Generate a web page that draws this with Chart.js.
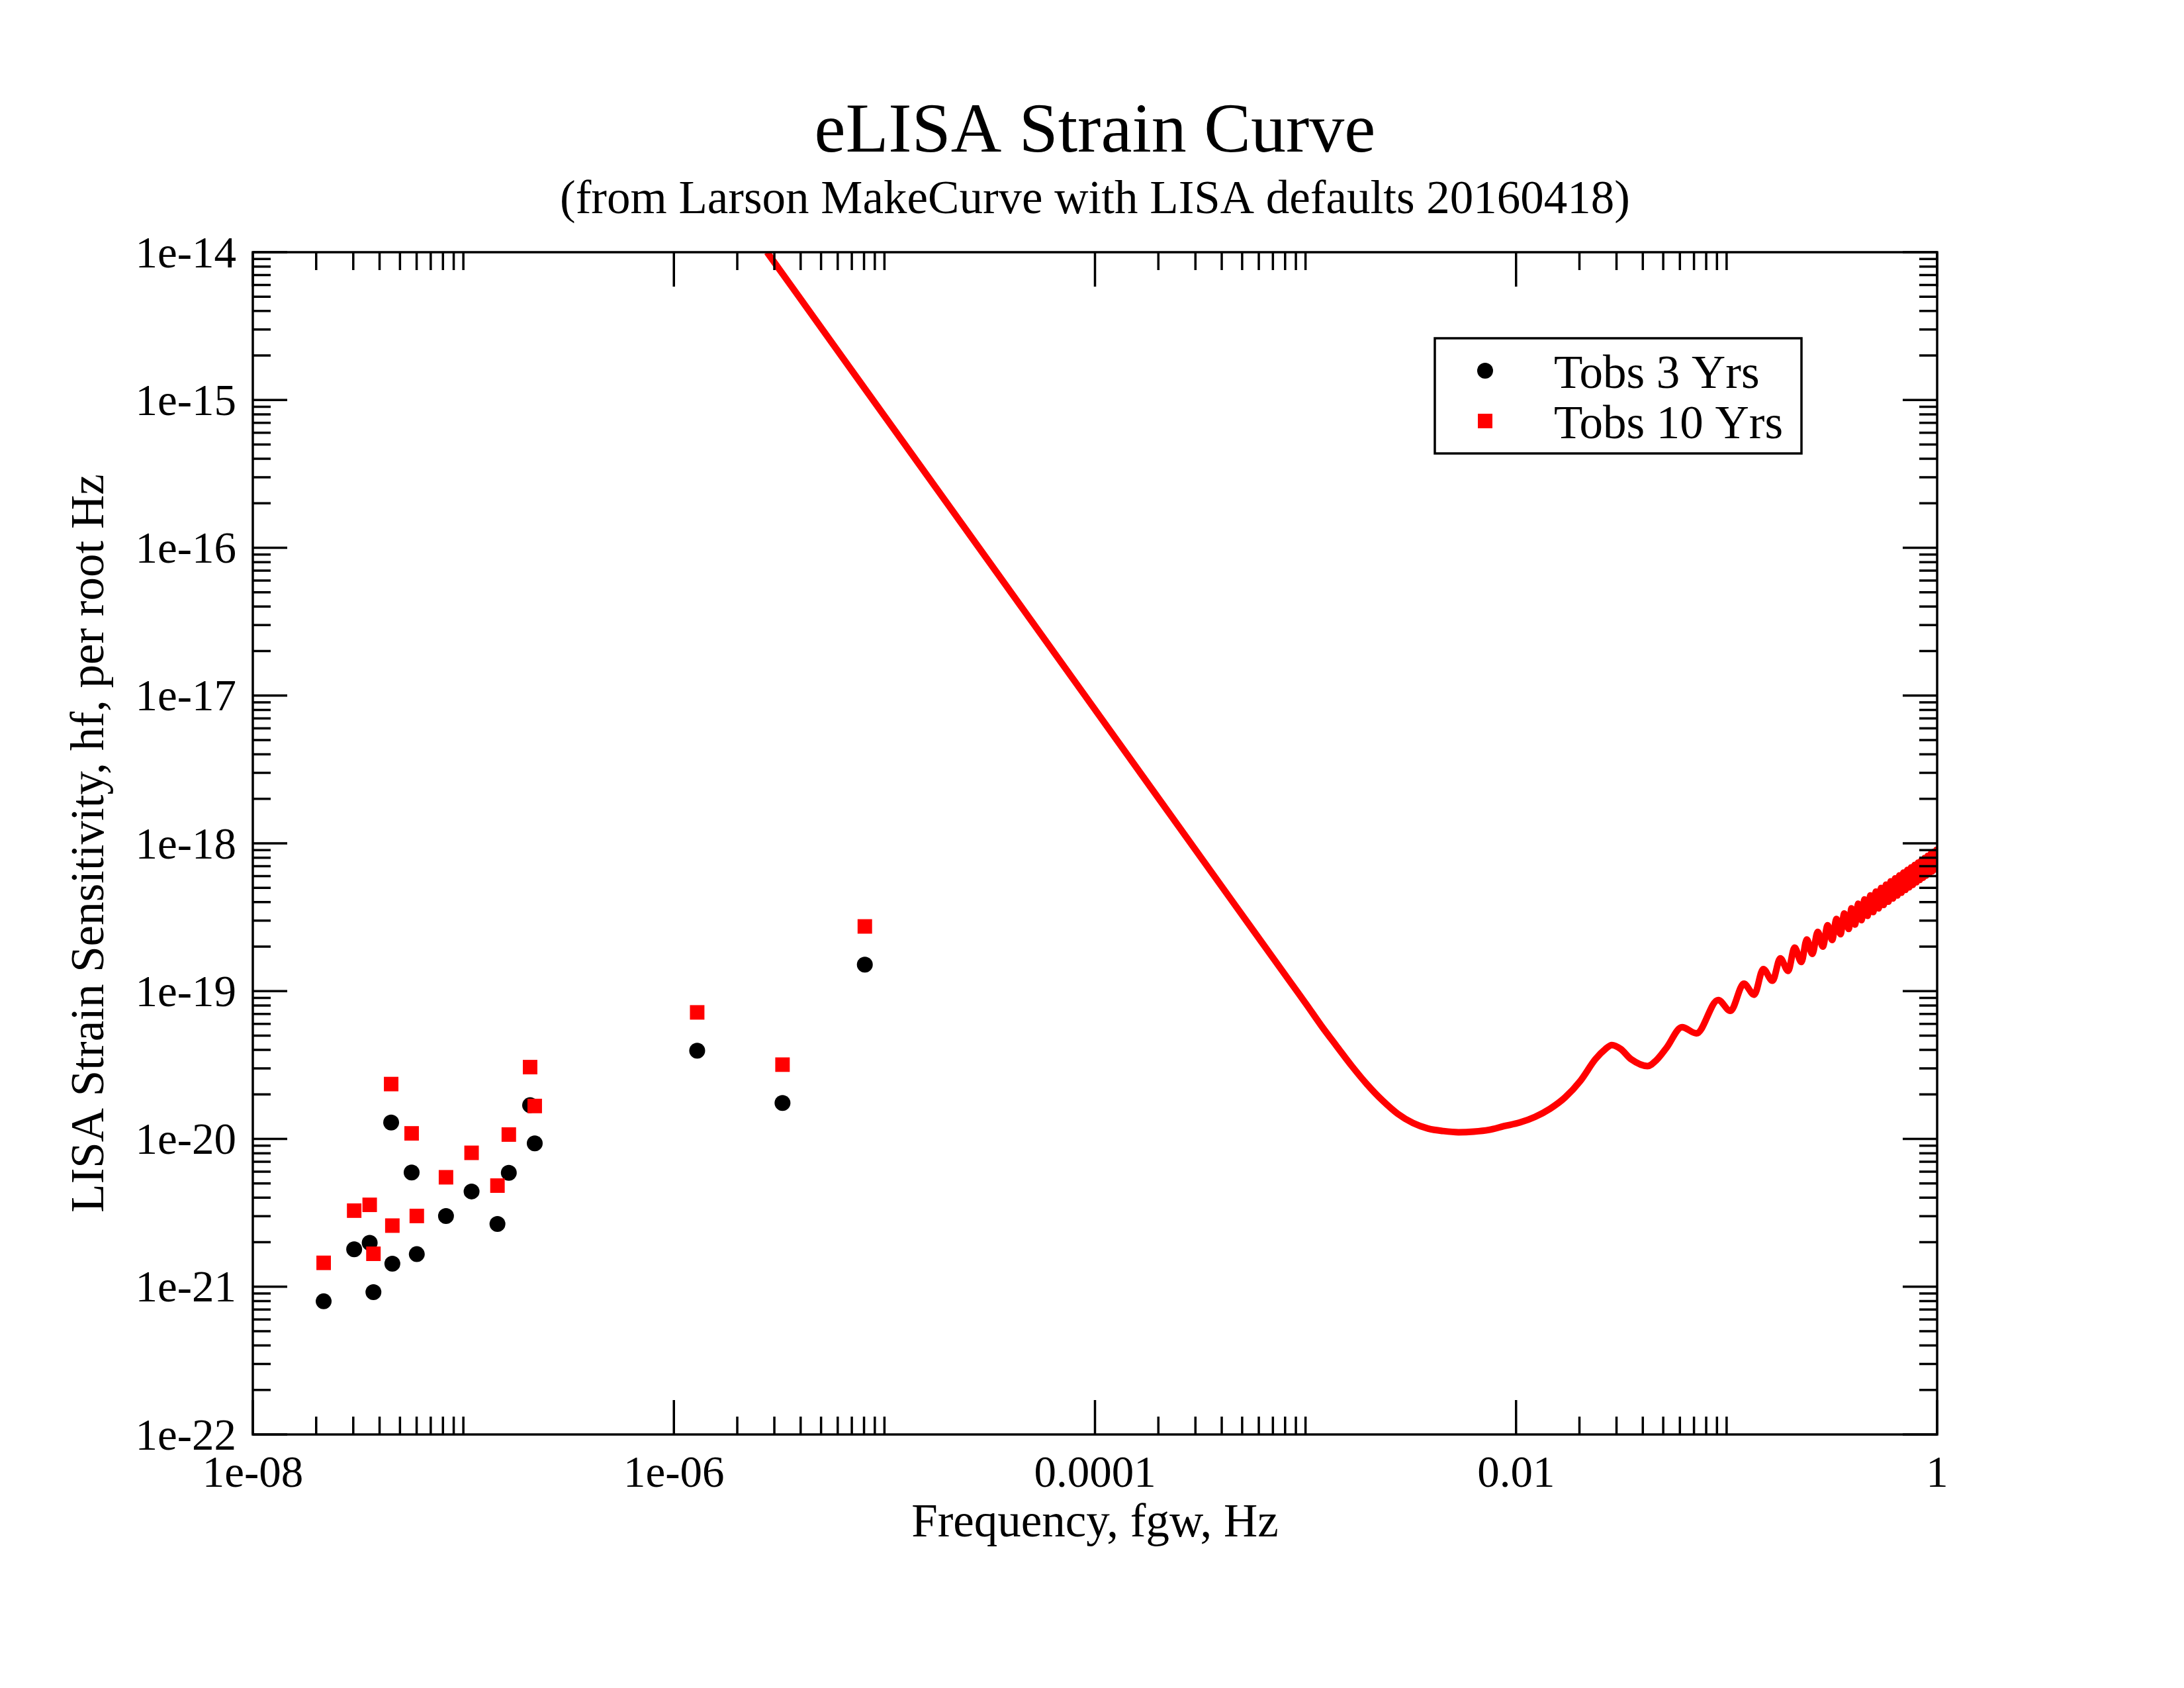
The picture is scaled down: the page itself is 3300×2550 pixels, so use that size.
<!DOCTYPE html>
<html lang="en">
<head>
<meta charset="UTF-8">
<title>eLISA Strain Curve</title>
<script src="https://cdn.jsdelivr.net/npm/chart.js"></script>
<style>
    html, body {
        margin: 0;
        padding: 0;
        background: #fff;
    }
    canvas {
        display: block;
    }
</style>
</head>
<body>
<canvas id="strainChart" width="3300" height="2550"></canvas>
<script>
    // Sensitivity curve (Hz, strain)
    const curveFreq = [
        2.77e-6, 7.24e-6, 3.49e-5, 1.84e-4, 4.63e-4, 8.55e-4,
        1.01e-3, 1.19e-3, 1.41e-3, 1.66e-3, 1.96e-3, 2.32e-3, 2.74e-3, 3.24e-3,
        3.82e-3, 4.52e-3, 5.33e-3, 6.30e-3, 7.43e-3, 8.77e-3, 1.04e-2, 1.23e-2,
        1.45e-2, 1.71e-2, 2.02e-2, 2.38e-2, 2.66e-2, 2.85e-2, 3.14e-2, 3.52e-2,
        4.21e-2, 4.63e-2, 5.18e-2, 6.14e-2, 7.19e-2, 9.12e-2,
        0.1042, 0.1208, 0.1352, 0.1493, 0.1652, 0.1799, 0.1959, 0.2104, 0.2265,
        0.2404, 0.2553, 0.2710, 0.2864, 0.3020, 0.3170, 0.3327, 0.3475, 0.3622, 0.3802,
        0.392, 0.407, 0.422, 0.437, 0.452, 0.467, 0.482, 0.497, 0.512, 0.527,
        0.542, 0.557, 0.572, 0.587, 0.602, 0.617, 0.632, 0.647, 0.662, 0.677,
        0.692, 0.707, 0.722, 0.737, 0.752, 0.767, 0.782, 0.797, 0.812, 0.827,
        0.842, 0.857, 0.872, 0.887, 0.902, 0.917, 0.932, 0.947, 0.962, 0.977,
        0.992, 1.0
    ];
    const curveStrain = [
        1.00e-14, 1.48e-15, 6.52e-17, 2.39e-18, 3.82e-19, 1.13e-19,
        8.13e-20, 5.82e-20, 4.22e-20, 3.11e-20, 2.34e-20, 1.82e-20, 1.48e-20, 1.28e-20,
        1.175e-20, 1.13e-20, 1.11e-20, 1.12e-20, 1.15e-20, 1.22e-20, 1.29e-20, 1.41e-20,
        1.60e-20, 1.91e-20, 2.47e-20, 3.46e-20, 4.06e-20, 4.32e-20, 4.06e-20, 3.46e-20,
        3.11e-20, 3.40e-20, 4.13e-20, 5.70e-20, 5.18e-20, 8.71e-20,
        7.35e-20, 1.122e-19, 9.46e-20, 1.409e-19, 1.175e-19, 1.667e-19, 1.371e-19, 1.968e-19, 1.574e-19,
        2.234e-19, 1.786e-19, 2.518e-19, 2.00e-19, 2.79e-19, 2.218e-19, 3.076e-19, 2.43e-19, 3.35e-19, 2.636e-19,
        3.63e-19, 2.82e-19, 3.90e-19, 3.02e-19, 4.17e-19, 3.23e-19, 4.44e-19, 3.43e-19, 4.71e-19, 3.63e-19,
        4.98e-19, 3.83e-19, 5.25e-19, 4.03e-19, 5.52e-19, 4.24e-19, 5.79e-19, 4.44e-19, 6.06e-19, 4.64e-19,
        6.33e-19, 4.84e-19, 6.60e-19, 5.04e-19, 6.87e-19, 5.24e-19, 7.14e-19, 5.45e-19, 7.40e-19, 5.65e-19,
        7.67e-19, 5.85e-19, 7.94e-19, 6.05e-19, 8.21e-19, 6.25e-19, 8.47e-19, 6.45e-19, 8.74e-19, 6.65e-19,
        9.01e-19, 7.80e-19
    ];

    // Point sources, same frequencies for both observation times
    const pointFreq = [
        2.17e-8, 3.03e-8, 3.59e-8, 3.74e-8, 4.54e-8, 4.60e-8, 5.68e-8, 6.01e-8,
        8.27e-8, 1.094e-7, 1.452e-7, 1.644e-7, 2.075e-7, 2.183e-7, 1.29e-6, 3.28e-6, 8.07e-6
    ];
    const strain3yr = [
        7.96e-22, 1.79e-21, 1.98e-21, 9.18e-22, 1.29e-20, 1.43e-21, 5.92e-21, 1.66e-21,
        3.01e-21, 4.41e-21, 2.66e-21, 5.89e-21, 1.69e-20, 9.33e-21, 3.95e-20, 1.75e-20, 1.51e-19
    ];
    const strain10yr = [
        1.45e-21, 3.27e-21, 3.58e-21, 1.67e-21, 2.35e-20, 2.59e-21, 1.09e-20, 3.01e-21,
        5.50e-21, 8.05e-21, 4.83e-21, 1.07e-20, 3.06e-20, 1.67e-20, 7.18e-20, 3.18e-20, 2.74e-19
    ];

    // Axes
    const xMajorTicks = [1e-8, 1e-6, 1e-4, 1e-2, 1];
    const xTickLabels = ['1e-08', '1e-06', '0.0001', '0.01', '1'];
    const xMinorSteps = [2, 3, 4, 5, 6, 7, 8, 9, 10];
    const yMajorTicks = [1e-22, 1e-21, 1e-20, 1e-19, 1e-18, 1e-17, 1e-16, 1e-15, 1e-14];
    const yTickLabels = ['1e-22', '1e-21', '1e-20', '1e-19', '1e-18', '1e-17', '1e-16', '1e-15', '1e-14'];
    const yMinorSteps = [2, 3, 4, 5, 6, 7, 8, 9];

    const serif = '"Liberation Serif", "Times New Roman", serif';
    Chart.defaults.font.family = serif;
    Chart.defaults.color = '#000';

    // Box round the plot with inward ticks on all four sides
    const frameTicks = {
        id: 'frameTicks',
        afterDatasetsDraw(chart) {
            const { ctx, chartArea: a, scales } = chart;
            const xs = scales.x, ys = scales.y;
            const majorLen = 52, minorLen = 27;
            ctx.save();
            ctx.strokeStyle = '#000';
            ctx.lineWidth = 3.5;
            ctx.beginPath();

            function xTick(v, len) {
                const px = xs.getPixelForValue(v);
                ctx.moveTo(px, a.bottom);
                ctx.lineTo(px, a.bottom - len);
                ctx.moveTo(px, a.top);
                ctx.lineTo(px, a.top + len);
            }

            function yTick(v, len) {
                const py = ys.getPixelForValue(v);
                ctx.moveTo(a.left, py);
                ctx.lineTo(a.left + len, py);
                ctx.moveTo(a.right, py);
                ctx.lineTo(a.right - len, py);
            }

            xMajorTicks.forEach((v, i) => {
                xTick(v, majorLen);
                if (i < xMajorTicks.length - 1) xMinorSteps.forEach(m => xTick(v * m, minorLen));
            });
            yMajorTicks.forEach((v, i) => {
                yTick(v, majorLen);
                if (i < yMajorTicks.length - 1) yMinorSteps.forEach(m => yTick(v * m, minorLen));
            });
            ctx.stroke();
            ctx.strokeRect(a.left, a.top, a.right - a.left, a.bottom - a.top);
            ctx.restore();
        }
    };

    // Legend box inside the plot, upper right
    const boxLegend = {
        id: 'boxLegend',
        afterDraw(chart) {
            const { ctx } = chart;
            const left = 2168, top = 511, width = 554, height = 174;
            const rows = [chart.data.datasets[1], chart.data.datasets[2]];
            ctx.save();
            ctx.fillStyle = '#fff';
            ctx.fillRect(left, top, width, height);
            ctx.strokeStyle = '#000';
            ctx.lineWidth = 3.5;
            ctx.strokeRect(left, top, width, height);
            ctx.font = '71px ' + serif;
            ctx.textBaseline = 'alphabetic';
            rows.forEach((ds, i) => {
                const cy = top + 49 + i * 76;
                ctx.fillStyle = ds.pointBackgroundColor;
                if (ds.pointStyle === 'rect') {
                    ctx.fillRect(left + 76 - 11, cy - 11, 22, 22);
                } else {
                    ctx.beginPath();
                    ctx.arc(left + 76, cy, 12, 0, Math.PI * 2);
                    ctx.fill();
                }
                ctx.fillStyle = '#000';
                ctx.fillText(ds.label, left + 180, cy + 26);
            });
            ctx.restore();
        }
    };

    const ctx = document.getElementById('strainChart').getContext('2d');
    new Chart(ctx, {
        type: 'scatter',
        data: {
            datasets: [{
                label: 'Strain curve',
                data: curveFreq.map((f, i) => ({ x: f, y: curveStrain[i] })),
                showLine: true,
                borderColor: '#ff0000',
                borderWidth: 10,
                borderJoinStyle: 'round',
                cubicInterpolationMode: 'monotone',
                pointRadius: 0,
                clip: 0,
                order: 3
            }, {
                label: 'Tobs 3 Yrs',
                data: pointFreq.map((f, i) => ({ x: f, y: strain3yr[i] })),
                pointStyle: 'circle',
                pointRadius: 12,
                pointBorderWidth: 0,
                pointBackgroundColor: '#000000',
                order: 2
            }, {
                label: 'Tobs 10 Yrs',
                data: pointFreq.map((f, i) => ({ x: f, y: strain10yr[i] })),
                pointStyle: 'rect',
                pointRadius: 15.5,
                pointBorderWidth: 0,
                pointBackgroundColor: '#ff0000',
                order: 1
            }]
        },
        options: {
            responsive: false,
            devicePixelRatio: 1,
            animation: false,
            events: [],
            layout: {
                padding: { left: 0, right: 373, top: 0, bottom: 0 }
            },
            plugins: {
                legend: { display: false },
                tooltip: { enabled: false },
                title: {
                    display: true,
                    text: 'eLISA Strain Curve',
                    color: '#000',
                    fullSize: false,
                    font: { size: 106, weight: 'normal', lineHeight: 1 },
                    padding: { top: 148, bottom: 0 }
                },
                subtitle: {
                    display: true,
                    text: '(from Larson MakeCurve with LISA defaults 20160418)',
                    color: '#000',
                    fullSize: false,
                    font: { size: 71, weight: 'normal', lineHeight: 1 },
                    padding: { top: 14, bottom: 42 }
                }
            },
            scales: {
                x: {
                    type: 'logarithmic',
                    position: 'bottom',
                    min: 1e-8,
                    max: 1,
                    grid: { display: false, drawTicks: false },
                    border: { display: false },
                    afterBuildTicks: s => { s.ticks = xMajorTicks.map(v => ({ value: v })); },
                    afterFit: s => { s.height = 383; },
                    ticks: {
                        autoSkip: false,
                        maxRotation: 0,
                        padding: 21,
                        font: { size: 67 },
                        callback: (v, i) => xTickLabels[i]
                    },
                    title: {
                        display: true,
                        text: 'Frequency, fgw, Hz',
                        font: { size: 71 },
                        padding: { top: 0, bottom: 205 }
                    }
                },
                y: {
                    type: 'logarithmic',
                    position: 'left',
                    min: 1e-22,
                    max: 1e-14,
                    grid: { display: false, drawTicks: false },
                    border: { display: false },
                    afterBuildTicks: s => { s.ticks = yMajorTicks.map(v => ({ value: v })); },
                    afterFit: s => { s.width = 382; },
                    ticks: {
                        autoSkip: false,
                        padding: 25,
                        labelOffset: 5,
                        font: { size: 67 },
                        callback: (v, i) => yTickLabels[i]
                    },
                    title: {
                        display: true,
                        text: 'LISA Strain Sensitivity, hf, per root Hz',
                        font: { size: 71 },
                        padding: { top: 95, bottom: 0 }
                    }
                }
            }
        },
        plugins: [frameTicks, boxLegend]
    });
</script>
</body>
</html>
